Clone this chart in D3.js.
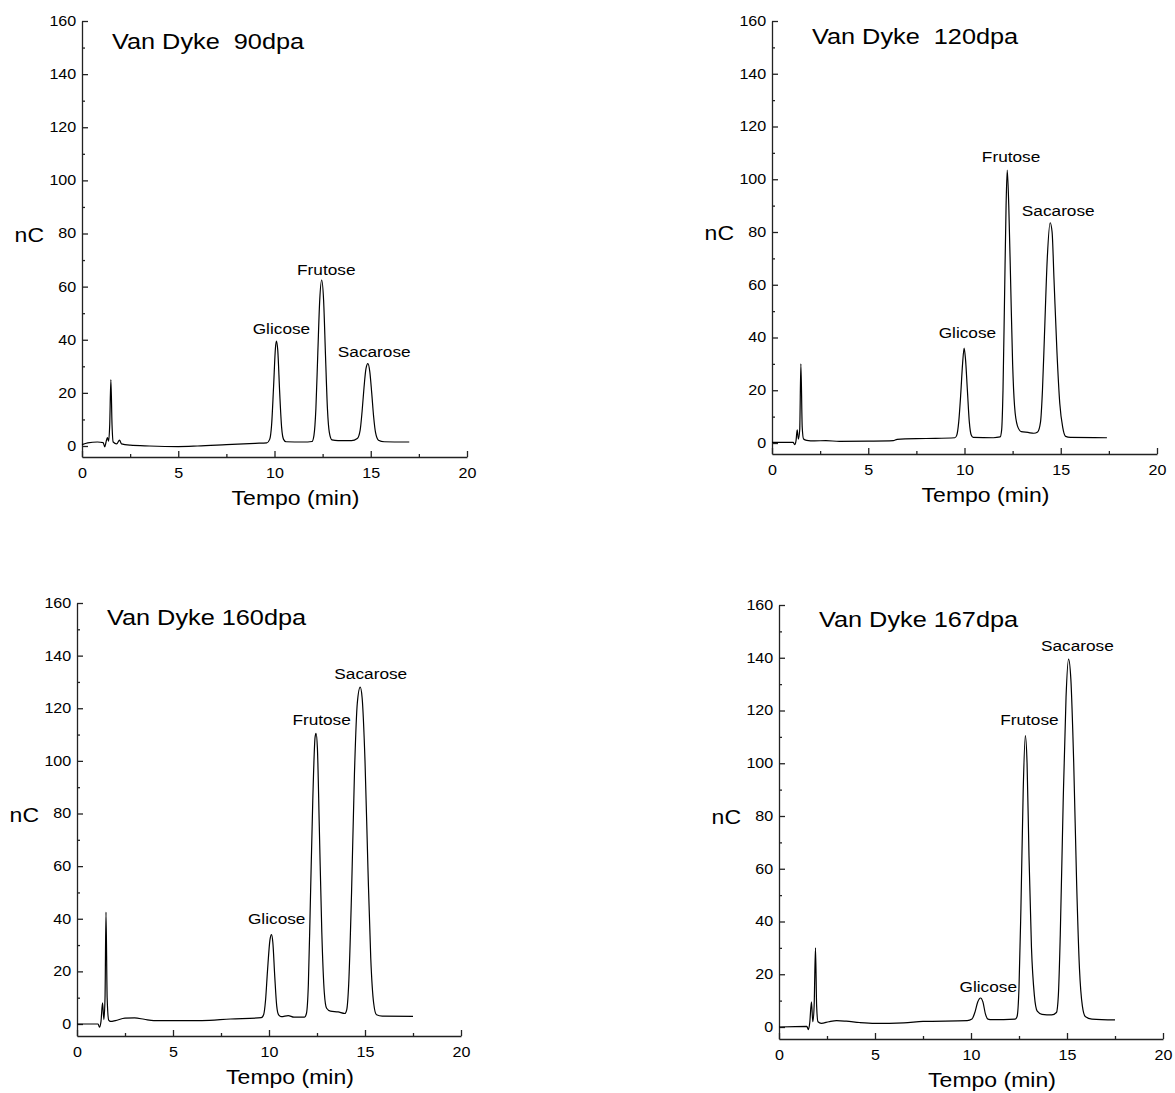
<!DOCTYPE html>
<html>
<head>
<meta charset="utf-8">
<script src="https://cdn.jsdelivr.net/npm/d3@7"></script>
<style>
  body { margin: 0; background: #fff; }
  text { font-family: "Liberation Sans", Arial, Helvetica, sans-serif; fill: #000; }
</style>
</head>
<body>
<div class="canvas"></div>
<script>
// chromatogram traces: time (min) and signal (nC)
const t90 = [0, 0.3, 0.8, 1.1, 1.18, 1.25, 1.32, 1.38, 1.44, 1.5, 1.56, 1.62, 1.8, 1.95, 2.05, 2.5, 3.5, 5, 6, 7.5, 9, 9.6,
  9.75, 9.85, 9.95, 10.05, 10.1, 10.17, 10.27, 10.37, 10.47, 10.6, 11.5, 11.95,
  12.05, 12.15, 12.25, 12.35, 12.45, 12.55, 12.65, 12.75, 12.85, 12.98, 13.3, 14.0,
  14.3, 14.45, 14.55, 14.65, 14.75, 14.85, 14.95, 15.05, 15.15, 15.25, 15.4, 15.7, 17];
const nc90 = [0.5, 1.2, 1.5, 1.3, -0.3, 1.5, 3.2, 1.8, 8, 25, 8, 1.5, 0.8, 2.2, 0.8, 0.3, 0, -0.2, 0, 0.5, 1, 1.2,
  2.5, 8, 22, 37, 39.5, 36, 20, 7, 2.5, 1.6, 1.5, 1.7,
  4, 14, 35, 55, 62.5, 55, 34, 14, 5, 2.3, 2, 2,
  2.8, 6, 13, 22, 29, 31, 28, 20, 11, 5, 2.2, 1.6, 1.5];

const t120 = [0, 1.1, 1.18, 1.25, 1.31, 1.37, 1.44, 1.5, 1.57, 1.64, 1.8, 2.2, 2.8, 3.5, 5, 6.3, 6.5, 8, 9.5,
  9.6, 9.7, 9.8, 9.9, 9.98, 10.05, 10.15, 10.25, 10.35, 10.45, 11.5, 11.85,
  11.93, 12.0, 12.08, 12.16, 12.22, 12.3, 12.4, 12.5, 12.6, 12.75, 12.95, 13.3, 13.6, 13.8,
  13.95, 14.05, 14.15, 14.3, 14.45, 14.55, 14.65, 14.8, 14.95, 15.1, 15.25, 15.5, 17.4];
const nc120 = [0.2, 0.2, -0.6, 1, 5, 1.5, 5, 30, 6, 1.5, 1, 0.8, 0.9, 0.6, 0.7, 0.9, 1.4, 1.7, 2,
  3, 8, 18, 30, 36, 32, 20, 8, 3, 2.1, 2, 2.3,
  5, 20, 55, 90, 103.5, 90, 60, 30, 14, 6.5, 4.3, 4, 3.7, 4.2,
  8, 20, 40, 70, 83.5, 80, 62, 35, 15, 6, 2.5, 2.1, 2];

const t160 = [0, 1.1, 1.17, 1.25, 1.33, 1.4, 1.46, 1.51, 1.57, 1.65, 1.75, 2.0, 2.5, 3.0, 3.5, 4.0, 6.5, 8, 9.6,
  9.72, 9.82, 9.92, 10.05, 10.13, 10.2, 10.3, 10.4, 10.5, 10.65, 11.0, 11.3, 11.85,
  11.95, 12.05, 12.15, 12.28, 12.4, 12.45, 12.52, 12.62, 12.75, 12.88, 13.0, 13.2, 13.6, 13.95,
  14.05, 14.15, 14.3, 14.45, 14.6, 14.75, 14.85, 15.0, 15.15, 15.3, 15.45, 15.6, 15.9, 17.5];
const nc160 = [0, 0, -1.2, 1, 8, 1.7, 10, 42.5, 10, 1.5, 1, 1.3, 2.2, 2.3, 1.8, 1.3, 1.3, 1.9, 2.4,
  3.5, 9, 20, 32, 34, 31, 18, 7, 3.5, 2.8, 3.2, 2.6, 2.6,
  4, 15, 45, 85, 109, 110.5, 105, 75, 35, 12, 6, 4.9, 4.6, 4,
  5.5, 15, 50, 95, 122, 128, 124, 100, 60, 25, 8, 3.5, 3, 2.9];

const t167 = [0, 1.45, 1.53, 1.6, 1.69, 1.76, 1.83, 1.9, 1.96, 2.03, 2.2, 2.6, 3.0, 3.5, 4.2, 5, 6.5, 7.5, 9.8,
  10.05, 10.2, 10.35, 10.5, 10.62, 10.75, 10.88, 11.1, 12.3,
  12.4, 12.5, 12.6, 12.72, 12.83, 12.92, 13.02, 13.15, 13.3, 13.45, 13.7, 14.2,
  14.45, 14.55, 14.65, 14.8, 14.95, 15.08, 15.2, 15.35, 15.5, 15.65, 15.8, 15.95, 16.3, 17.5];
const nc167 = [0, 0.2, -1, 1.5, 9.5, 2, 8, 30, 8, 2, 1.4, 2, 2.4, 2.2, 1.7, 1.4, 1.6, 2.1, 2.4,
  3, 5.5, 9.5, 11, 9.5, 5, 3, 2.8, 3,
  4, 15, 45, 90, 110.5, 100, 65, 30, 12, 6, 4.8, 4.6,
  5.5, 12, 35, 85, 125, 139.5, 132, 100, 55, 22, 8, 4, 3, 2.7];

// peak names and where their labels sit (time, nC)
const peakNames = ['Glicose', 'Frutose', 'Sacarose'];
const labT90 = [10.36, 12.69, 15.18];
const labV90 = [42, 64.5, 33.5];
const labT120 = [10.15, 12.42, 14.87];
const labV120 = [40, 106.5, 86];
const labT160 = [10.4, 12.74, 15.3];
const labV160 = [38, 113.5, 131];
const labT167 = [10.9, 13.04, 15.54];
const labV167 = [13.4, 114.4, 142.7];

// tick labels
const xTicks = [0, 5, 10, 15, 20];
const xMinor = [2.5, 7.5, 12.5, 17.5];
const yTicks = [0, 20, 40, 60, 80, 100, 120, 140, 160];
const yMinor = [10, 30, 50, 70, 90, 110, 130, 150];

const titles = ['Van Dyke  90dpa', 'Van Dyke  120dpa', 'Van Dyke 160dpa', 'Van Dyke 167dpa'];

// panel frames (pixels)
const panels = [
  { t: t90, v: nc90, lt: labT90, lv: labV90, left: 82, right: 467, top: 21, zero: 446, bottom: 457, tdx: 30, tdy: 28 },
  { t: t120, v: nc120, lt: labT120, lv: labV120, left: 772, right: 1157, top: 21, zero: 443, bottom: 454, tdx: 40, tdy: 23 },
  { t: t160, v: nc160, lt: labT160, lv: labV160, left: 77, right: 461, top: 603, zero: 1024, bottom: 1036, tdx: 30, tdy: 22 },
  { t: t167, v: nc167, lt: labT167, lv: labV167, left: 779, right: 1163, top: 605, zero: 1027, bottom: 1039, tdx: 40, tdy: 22 },
];

const stretch = 'scale(1.15,1)';

const svg = d3.select('.canvas')
  .append('svg')
  .attr('width', 1175)
  .attr('height', 1093);

panels.forEach((p, i) => {
  const g = svg.append('g');

  const x = d3.scaleLinear().domain([0, 20]).range([p.left, p.right]);
  const y = d3.scaleLinear().domain([0, 160]).range([p.zero, p.top]);
  // y axis runs down to the x axis
  const yAx = y.copy().domain([y.invert(p.bottom), 160]).range([p.bottom, p.top]);

  // axes
  g.append('g')
    .attr('transform', `translate(0, ${p.bottom})`)
    .call(d3.axisBottom(x).tickValues(xTicks).tickSize(-6).tickSizeOuter(0).tickPadding(11));
  g.append('g')
    .attr('transform', `translate(0, ${p.bottom})`)
    .call(d3.axisBottom(x).tickValues(xMinor).tickSize(-3).tickFormat(''))
    .select('.domain').remove();

  g.append('g')
    .attr('transform', `translate(${p.left}, 0)`)
    .call(d3.axisLeft(yAx).tickValues(yTicks).tickSize(-6).tickSizeOuter(0).tickPadding(5));
  g.append('g')
    .attr('transform', `translate(${p.left}, 0)`)
    .call(d3.axisLeft(yAx).tickValues(yMinor).tickSize(-3).tickFormat(''))
    .select('.domain').remove();

  g.selectAll('.domain, .tick line')
    .attr('stroke', '#222')
    .attr('stroke-width', 1.3);

  g.selectAll('.tick text')
    .attr('font-size', 14)
    .attr('fill', '#000')
    .attr('transform', stretch);

  // trace
  const pts = p.t.map((d, k) => [d, p.v[k]]);
  const line = d3.line()
    .x(d => x(d[0]))
    .y(d => y(d[1]))
    .curve(d3.curveMonotoneX);

  g.append('path')
    .datum(pts)
    .attr('d', line)
    .attr('fill', 'none')
    .attr('stroke', '#000')
    .attr('stroke-width', 1.2);

  // peak labels
  peakNames.forEach((name, k) => {
    g.append('text')
      .attr('transform', `translate(${x(p.lt[k])}, ${y(p.lv[k])}) ${stretch}`)
      .attr('text-anchor', 'middle')
      .attr('font-size', 15)
      .text(name);
  });

  // title
  g.append('text')
    .attr('transform', `translate(${p.left + p.tdx}, ${p.top + p.tdy}) ${stretch}`)
    .attr('font-size', 22)
    .style('white-space', 'pre')
    .text(titles[i]);

  // axis titles
  g.append('text')
    .attr('transform', `translate(${p.left - 38}, ${y(80) + 8}) ${stretch}`)
    .attr('text-anchor', 'end')
    .attr('font-size', 20)
    .text('nC');

  g.append('text')
    .attr('transform', `translate(${(p.left + p.right) / 2 + 21}, ${p.bottom + 48}) ${stretch}`)
    .attr('text-anchor', 'middle')
    .attr('font-size', 20)
    .text('Tempo (min)');
});
</script>
</body>
</html>
